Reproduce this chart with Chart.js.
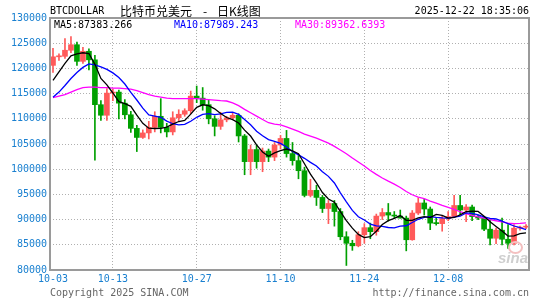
<!DOCTYPE html>
<html>
<head>
<meta charset="utf-8">
<script src="https://cdn.jsdelivr.net/npm/chart.js@4.4.1/dist/chart.umd.min.js"></script>
<style>
    html, body { margin: 0; padding: 0; background: #fff; }
    #wrap { position: relative; width: 545px; height: 300px; overflow: hidden; font-family: "DejaVu Sans Mono", "Liberation Mono", monospace; }
    #wrap canvas { position: absolute; left: 0; top: 0; }
    .t { position: absolute; white-space: nowrap; font-size: 10px; line-height: 12px; }
    .cn { font-family: "Noto Sans CJK SC", sans-serif; font-size: 12px; line-height: 14px; color: #000; }
    .eye { position: absolute; left: 508px; top: 241px; width: 11px; height: 9px; border-radius: 50%; border: 2px solid #f4c0c0; }
</style>
</head>
<body>
<div id="wrap">
    <canvas id="kline" width="545" height="300"></canvas>

    <span class="t" style="left:50px; top:5px; color:#000;">BTCDOLLAR</span>
    <span class="t cn" style="left:120px; top:4px;">比特币兑美元</span>
    <span class="t cn" style="left:203px; top:4px;">-</span>
    <span class="t cn" style="left:217px; top:4px;">日K线图</span>
    <span class="t" style="right:16px; top:5px; color:#000;">2025-12-22 18:35:06</span>

    <span class="t" id="lgMa5" style="left:54px; top:19px; color:#000;"></span>
    <span class="t" id="lgMa10" style="left:174px; top:19px; color:#0000ff;"></span>
    <span class="t" id="lgMa30" style="left:295px; top:19px; color:#ff00ff;"></span>

    <div class="eye"></div>
    <span class="t" style="left:498px; top:252px; color:#cfcfcf; font-family:'Liberation Sans',sans-serif; font-size:15px; font-weight:bold; font-style:italic;">sina</span>

    <span class="t" style="left:50px; top:287px; color:#666;">Copyright 2025 SINA.COM</span>
    <span class="t" style="right:16px; top:287px; color:#666;">http://finance.sina.com.cn</span>
</div>

<script>
// ----------- DATA -----------
const dates = [
    "10-03","10-04","10-05","10-06","10-07","10-08","10-09","10-10","10-11","10-12",
    "10-13","10-14","10-15","10-16","10-17","10-18","10-19","10-20","10-21","10-22",
    "10-23","10-24","10-25","10-26","10-27","10-28","10-29","10-30","10-31","11-01",
    "11-02","11-03","11-04","11-05","11-06","11-07","11-08","11-09","11-10","11-11",
    "11-12","11-13","11-14","11-15","11-16","11-17","11-18","11-19","11-20","11-21",
    "11-22","11-23","11-24","11-25","11-26","11-27","11-28","11-29","11-30","12-01",
    "12-02","12-03","12-04","12-05","12-06","12-07","12-08","12-09","12-10","12-11",
    "12-12","12-13","12-14","12-15","12-16","12-17","12-18","12-19","12-20","12-21"
];

const tickDates = ["10-03", "10-13", "10-27", "11-10", "11-24", "12-08"];

const yTicks = [80000, 85000, 90000, 95000, 100000, 105000, 110000, 115000, 120000, 125000, 130000];

const openPx = [
    120600,122300,122400,123600,124700,121400,123400,121700,112800,110700,
    115100,115300,113100,110800,108100,106300,107200,108300,110500,108300,
    107400,110200,110900,111600,114500,114100,112800,110000,108500,109800,
    110200,110700,106600,101500,103900,101500,103600,102400,104800,106100,
    103100,101700,99700,94800,95800,94400,92200,93200,91600,86600,
    85300,84800,87000,88400,87600,90700,91400,90900,90700,90300,
    86000,91300,93300,92100,89300,89200,90200,90600,92800,91900,
    92500,90600,90300,88100,86300,87900,86100,85300,88300,88500
];
const highPx = [
    124000,122900,125900,126300,125200,124200,123900,122600,113600,116000,
    115900,115700,113800,111500,108700,107800,109500,111400,114000,109100,
    111400,111800,112000,115500,116500,116200,113700,110600,111300,110500,
    111100,111000,106900,104800,104800,104200,104000,105300,106700,107700,
    105300,102700,100400,98000,96800,94800,93800,93800,92200,87600,
    85900,87600,89200,89300,91100,92200,93200,91600,91900,90700,
    91800,94300,94000,92500,90300,90800,91600,94800,94800,93000,
    92900,90900,90500,90000,88300,90300,89000,89000,88700,89000
];
const lowPx = [
    119200,121600,122000,123100,120600,121000,119700,101800,109700,109700,
    113600,110000,110000,107300,103500,106100,106000,107400,107200,106400,
    106800,109600,110500,111000,113200,111700,109000,106600,107900,109400,
    109900,105400,98900,98900,100200,99500,101500,101700,104000,102400,
    100800,98100,94500,94500,92800,91400,89200,88700,86000,80900,
    83900,84600,85300,86200,86900,90000,89700,90300,90300,83800,
    85900,91000,90900,88000,88900,87700,89800,90400,91000,89600,
    89800,90000,87800,85000,85200,85000,84300,85000,87900,88200
];
const closePx = [
    122300,122400,123600,124700,121400,123400,121700,112800,110700,115100,
    115300,113100,110800,108100,106300,107200,108300,110500,108300,107400,
    110200,110900,111600,114500,114100,112800,110000,108500,109800,110200,
    110700,106600,101500,103900,101500,103600,102400,104800,106100,103100,
    101700,99700,94800,95800,94400,92200,93200,91600,86600,85300,
    84800,87000,88400,87600,90700,91400,90900,90700,90300,86000,
    91300,93300,92100,89300,89200,90200,90600,92800,91900,92500,
    90600,90300,88100,86300,87900,86100,85300,88300,88500,88700
];

const ma5 = [
    117600,119300,121000,122500,122880,123100,122960,120800,118000,116740,
    115120,113400,113000,112480,110720,109100,108140,108080,108120,108340,
    108940,109460,109680,110920,112260,112780,112600,111980,111040,110260,
    109840,109160,107760,106580,104840,103420,102580,103240,103680,104000,
    103620,103080,101080,99020,97280,95380,94080,93440,91600,89780,
    88300,87060,86420,86620,87700,89020,89800,90260,90800,89860,
    89840,90320,90600,90400,91040,90820,90280,90420,90940,91600,
    91680,91620,90680,89560,88640,87740,86740,86780,87220,87383
];
const ma10 = [
    114300,115300,116600,118000,119200,120200,120900,120700,120300,119810,
    119110,118180,116900,115240,113730,112110,110770,110540,110300,109530,
    109020,108800,108880,109520,110300,110860,111030,110830,110980,111260,
    111310,110880,109870,108810,107550,106630,105870,105500,105130,104420,
    103520,102830,102160,101350,100640,99500,98580,97260,95310,93530,
    91840,90570,89930,89110,88740,88660,88430,88340,88710,88780,
    89430,90060,90430,90600,90450,90330,90300,90510,90670,91320,
    91250,90950,90550,90250,90120,89710,89180,88730,88390,87989
];
const ma30 = [
    114200,114500,114800,115300,115800,116200,116300,116300,116200,116200,
    116100,116100,116000,115900,115600,115200,114800,114500,114300,114100,
    114000,114000,114000,114000,114000,113900,113800,113700,113600,113530,
    113150,112620,111880,111190,110530,109870,109220,108960,108800,108400,
    107950,107500,106970,106560,106160,105660,105160,104530,103800,103070,
    102220,101420,100650,99750,98970,98260,97620,97030,96380,95570,
    94930,94480,94170,93680,93270,92830,92430,92030,91560,91210,
    90840,90520,90300,89980,89770,89560,89300,89190,89250,89362
];

const maLegend = { MA5: "87383.266", MA10: "87989.243", MA30: "89362.6393" };

// ----------- STYLE -----------
const UP = "#ff5a5a";
const DOWN = "#00a000";
const AXIS_BLUE = "#1a80d0";
const GRID = "#b0b0b0";
const MONO = "'DejaVu Sans Mono', 'Liberation Mono', monospace";

document.getElementById("lgMa5").textContent = "MA5:" + maLegend.MA5;
document.getElementById("lgMa10").textContent = "MA10:" + maLegend.MA10;
document.getElementById("lgMa30").textContent = "MA30:" + maLegend.MA30;

const candleColors = closePx.map((c, i) => (c >= openPx[i] ? UP : DOWN));
const wicks = lowPx.map((l, i) => [l, highPx[i]]);
const bodies = openPx.map((o, i) => [o, closePx[i]]);

// solid frame round the plot area
const framePlugin = {
    id: "frame",
    afterDraw(chart) {
        const { ctx, chartArea } = chart;
        ctx.save();
        ctx.strokeStyle = "#9a9a9a";
        ctx.lineWidth = 2;
        ctx.strokeRect(chartArea.left, chartArea.top, chartArea.right - chartArea.left, chartArea.bottom - chartArea.top);
        ctx.restore();
    }
};

new Chart(document.getElementById("kline"), {
    type: "bar",
    data: {
        labels: dates,
        datasets: [
            { type: "line", label: "MA5", data: ma5, borderColor: "#000", borderWidth: 1.3, pointRadius: 0, tension: 0, order: 0 },
            { type: "line", label: "MA10", data: ma10, borderColor: "#0000ff", borderWidth: 1.3, pointRadius: 0, tension: 0, order: 0 },
            { type: "line", label: "MA30", data: ma30, borderColor: "#ff00ff", borderWidth: 1.3, pointRadius: 0, tension: 0, order: 0 },
            { label: "body", data: bodies, backgroundColor: candleColors, barThickness: 5, minBarLength: 1, grouped: false, order: 1 },
            { label: "wick", data: wicks, backgroundColor: candleColors, barThickness: 1, grouped: false, order: 2 }
        ]
    },
    options: {
        responsive: false,
        animation: false,
        events: [],
        layout: { padding: { left: 0, right: 16, top: 18, bottom: 14 } },
        plugins: {
            legend: { display: false },
            tooltip: { enabled: false }
        },
        scales: {
            x: {
                offset: true,
                grid: {
                    offset: false,
                    drawTicks: false,
                    color: (c) => (c.index > 0 && tickDates.includes(dates[c.index]) ? GRID : "rgba(0,0,0,0)")
                },
                border: { display: false, dash: [1, 2] },
                ticks: {
                    autoSkip: false,
                    maxRotation: 0,
                    padding: 3,
                    color: AXIS_BLUE,
                    font: { family: MONO, size: 10 },
                    callback: (v, i) => (tickDates.includes(dates[i]) ? dates[i] : "")
                },
                afterFit: (s) => { s.height = 16; }
            },
            y: {
                min: yTicks[0],
                max: yTicks[yTicks.length - 1],
                afterBuildTicks: (s) => { s.ticks = yTicks.map(v => ({ value: v })); },
                grid: { drawTicks: false, color: GRID },
                border: { display: false, dash: [1, 2] },
                ticks: {
                    padding: 3,
                    color: AXIS_BLUE,
                    font: { family: MONO, size: 10 },
                    callback: (v) => String(v)
                },
                afterFit: (s) => { s.width = 50; }
            }
        }
    },
    plugins: [framePlugin]
});
</script>
</body>
</html>
